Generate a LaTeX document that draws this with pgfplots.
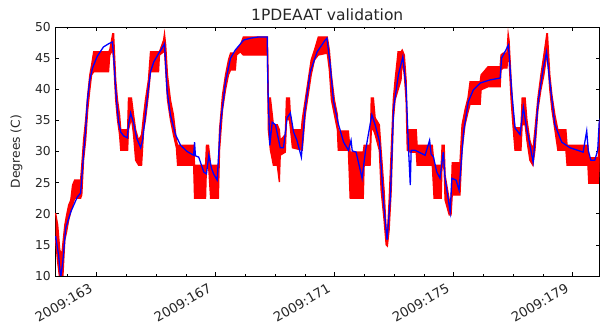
\documentclass[border=0pt]{standalone}
\usepackage{pgfplots}
\pgfplotsset{compat=1.18}
\usepackage{pgfplotstable}
\usepgfplotslibrary{fillbetween}
\usetikzlibrary{calc}
\usepackage{fontspec}
\setmainfont{DejaVu Sans}

\pgfplotstableread{
x y
161.62 20.1
161.69 18.2
161.76 14.2
161.83 13.4
161.86 15.0
161.93 18.2
161.99 19.8
162.06 21.4
162.13 22.2
162.19 24.6
162.26 25.4
162.46 25.4
162.50 27.8
162.56 31.8
162.63 35.1
162.70 39.1
162.77 42.3
162.83 43.9
162.90 46.0
163.40 46.0
163.44 46.3
163.50 47.9
163.54 48.9
163.57 48.9
163.64 41.5
163.70 38.3
163.77 35.9
163.81 33.5
164.04 33.5
164.07 38.6
164.17 38.6
164.24 35.9
164.31 33.5
164.41 31.8
164.51 32.7
164.58 35.9
164.64 38.3
164.74 41.5
164.81 46.0
165.11 46.0
165.25 47.9
165.28 48.9
165.32 47.1
165.38 42.3
165.48 38.3
165.58 35.9
165.68 31.8
165.72 31.0
166.26 31.0
166.29 27.8
166.66 27.8
166.69 31.0
166.76 31.0
166.83 27.8
167.09 27.8
167.13 33.5
167.23 39.1
167.33 42.3
167.43 44.7
167.50 45.8
167.66 45.8
167.70 46.3
167.83 47.1
167.93 48.4
168.74 48.4
168.77 38.6
168.84 38.6
168.94 34.3
169.07 34.3
169.14 33.5
169.17 31.8
169.34 32.7
169.38 38.6
169.48 38.6
169.51 35.9
169.58 33.5
169.88 33.5
169.91 35.1
170.01 38.3
170.11 41.5
170.21 44.7
170.32 46.3
170.45 48.4
170.75 48.4
170.82 46.3
170.89 42.3
170.99 38.3
171.09 35.9
171.12 33.3
171.46 33.3
171.52 29.9
171.96 29.9
171.99 31.0
172.19 31.0
172.23 38.6
172.30 38.6
172.36 35.4
172.50 34.3
172.56 30.2
172.66 23.8
172.73 17.4
172.77 16.6
172.83 22.2
172.90 30.2
172.97 38.3
173.03 41.5
173.13 46.0
173.23 46.0
173.27 46.3
173.34 45.5
173.40 41.5
173.44 33.5
173.74 33.5
173.77 31.0
174.28 31.0
174.34 27.8
174.58 27.8
174.61 31.0
174.68 31.0
174.71 26.2
174.85 22.2
174.91 21.4
174.95 28.2
175.21 28.2
175.28 34.3
175.38 36.7
175.48 38.6
175.55 41.2
175.89 41.2
175.92 42.3
176.15 43.6
176.56 43.6
176.59 45.5
176.66 45.8
176.79 45.8
176.83 48.9
176.86 47.9
176.93 41.5
176.99 36.7
177.06 33.8
177.26 33.8
177.30 38.6
177.40 38.6
177.46 35.1
177.56 31.8
177.66 30.2
177.73 33.5
177.83 38.6
177.93 42.3
178.03 45.5
178.13 48.9
178.15 48.9
178.23 42.3
178.30 39.1
178.40 35.9
178.50 33.5
178.77 33.5
178.81 31.0
179.51 31.0
179.54 29.0
179.86 29.0
179.91 35.0
}\updata

\pgfplotstableread{
x y
161.62 15.8
161.69 12.2
161.76 9.5
161.83 9.5
161.86 9.5
161.93 15.8
161.99 17.1
162.06 19.0
162.13 20.3
162.19 21.4
162.26 22.5
162.46 22.5
162.50 23.0
162.56 28.6
162.63 31.8
162.70 36.7
162.77 39.9
162.83 42.3
162.90 42.8
163.40 42.8
163.44 45.5
163.50 46.0
163.54 46.3
163.57 44.7
163.64 38.3
163.70 35.1
163.77 32.7
163.81 30.2
164.04 30.2
164.07 33.5
164.17 35.4
164.24 32.7
164.31 28.6
164.41 27.8
164.51 27.8
164.58 33.5
164.64 35.1
164.74 39.1
164.81 42.8
165.08 42.8
165.11 45.5
165.25 46.0
165.28 46.3
165.32 43.1
165.38 38.3
165.48 35.1
165.58 32.7
165.68 30.6
165.72 27.8
166.26 27.8
166.29 22.5
166.66 22.5
166.69 27.8
166.76 27.8
166.83 22.5
167.09 22.5
167.13 30.2
167.23 36.7
167.33 39.9
167.43 42.3
167.50 43.1
167.66 43.1
167.70 45.5
167.83 46.0
167.93 45.5
168.74 45.5
168.77 33.5
168.84 30.2
168.94 27.8
169.07 27.8
169.14 25.1
169.17 29.4
169.34 29.9
169.38 35.1
169.48 35.1
169.51 33.8
169.58 30.6
169.91 30.2
170.01 35.9
170.11 39.1
170.21 42.3
170.32 44.7
170.45 45.5
170.75 45.8
170.82 43.1
170.89 38.3
170.99 35.9
171.09 33.5
171.12 30.2
171.46 30.2
171.52 22.5
171.96 22.5
171.99 27.8
172.19 27.8
172.23 33.5
172.30 33.5
172.36 32.7
172.50 30.2
172.56 23.8
172.66 19.0
172.73 15.0
172.77 14.8
172.83 17.4
172.90 23.8
172.97 35.1
173.03 38.3
173.13 39.9
173.23 41.5
173.27 44.7
173.34 42.3
173.40 38.3
173.44 30.2
173.54 29.9
173.74 29.9
173.77 27.8
174.28 27.8
174.34 22.5
174.58 22.5
174.61 28.6
174.68 27.0
174.71 22.2
174.85 19.8
174.91 19.8
174.95 23.0
175.21 23.0
175.28 30.2
175.38 34.3
175.48 36.3
175.55 37.6
175.89 37.6
175.92 39.9
176.15 40.4
176.56 40.4
176.59 43.1
176.66 43.4
176.79 43.4
176.83 46.3
176.86 44.7
176.93 38.3
176.99 34.3
177.06 30.2
177.26 30.2
177.30 34.3
177.40 34.3
177.46 31.8
177.56 28.6
177.66 27.8
177.73 30.2
177.83 36.7
177.93 39.9
178.03 42.3
178.13 45.5
178.15 45.5
178.23 39.9
178.30 36.7
178.40 33.5
178.50 30.2
178.77 30.2
178.81 27.8
179.51 27.8
179.54 24.9
179.86 24.9
179.91 30.0
}\lodata

\pgfplotstableread{
x y
161.62 16.4
161.72 13.4
161.79 9.7
161.86 12.2
161.96 17.7
162.13 20.3
162.35 22.7
162.46 23.3
162.57 30.2
162.63 33.5
162.69 38.3
162.77 41.5
162.86 43.4
163.02 45.3
163.23 46.8
163.40 47.3
163.53 47.6
163.58 44.7
163.64 39.9
163.69 37.0
163.74 34.7
163.81 33.1
163.91 32.5
164.03 32.2
164.07 34.3
164.14 36.2
164.24 34.6
164.34 32.2
164.48 30.6
164.54 31.8
164.64 35.9
164.74 40.2
164.81 42.8
164.92 44.4
165.09 45.8
165.26 47.1
165.28 47.3
165.37 39.6
165.48 35.9
165.65 32.7
165.82 31.0
166.04 30.0
166.26 29.4
166.29 31.5
166.32 29.3
166.43 29.1
166.60 26.7
166.69 26.4
166.77 29.4
166.86 27.3
166.93 26.4
167.05 25.4
167.16 34.3
167.33 41.2
167.50 45.0
167.66 46.3
167.94 47.9
168.17 48.2
168.44 48.4
168.73 48.4
168.76 39.6
168.82 31.0
168.90 34.7
169.01 34.3
169.17 30.6
169.28 30.6
169.40 35.4
169.51 36.2
169.62 33.1
169.73 31.8
169.88 29.1
170.01 37.0
170.18 42.8
170.41 46.0
170.68 47.9
170.74 48.2
170.85 43.9
170.96 38.0
171.13 34.3
171.30 31.5
171.46 30.2
171.55 31.8
171.59 30.1
171.72 29.9
171.92 25.7
172.03 29.9
172.13 32.7
172.25 35.9
172.36 34.3
172.51 31.5
172.64 21.9
172.76 15.8
172.87 22.5
172.98 37.0
173.14 42.3
173.29 45.2
173.40 40.2
173.48 30.6
173.54 24.6
173.57 30.2
173.70 30.2
173.87 29.8
174.04 29.4
174.19 31.8
174.24 29.6
174.32 29.1
174.43 26.7
174.54 25.7
174.65 29.9
174.71 25.7
174.88 20.3
174.94 25.7
175.08 25.4
175.18 23.8
175.33 33.1
175.49 38.0
175.66 39.9
175.89 41.0
176.22 41.5
176.56 41.8
176.61 45.0
176.72 46.0
176.84 47.1
176.95 39.6
177.06 33.8
177.23 32.7
177.34 37.1
177.45 33.8
177.67 28.3
177.84 38.0
178.00 43.1
178.12 46.0
178.23 41.2
178.40 34.3
178.63 31.5
178.91 30.6
179.35 29.9
179.47 33.3
179.52 30.2
179.61 28.6
179.74 28.6
179.84 30.2
179.89 34.7
179.92 35.3
}\bluedata

\begin{document}
\begin{tikzpicture}
\begin{axis}[
  name=ax,
  scale only axis,
  width=544.5bp, height=249bp,
  xmin=161.60, xmax=179.90,
  ymin=10, ymax=50,
  xtick={163,167,171,175,179},
  xticklabels={2009:163,2009:167,2009:171,2009:175,2009:179},
  minor xtick={162,164,165,166,168,169,170,172,173,174,176,177,178},
  ytick={10,15,...,50},
  tick align=inside,
  major tick length=4bp,
  minor tick length=2bp,
  every tick/.style={black, line width=0.6bp},
  axis line style={line width=0.8bp},
  /pgf/number format/assume math mode=true,
  tick label style={font=\fontsize{12.3bp}{14bp}\selectfont, text=black!85},
  every x tick label/.style={inner sep=0bp, xshift=-8bp, yshift=-6.5bp, rotate=30, anchor=north east, font=\fontsize{13.2bp}{15bp}\selectfont},
  yticklabel style={inner sep=1bp, xshift=-3bp},
  title={1PDEAAT validation},
  title style={font=\fontsize{15.5bp}{17bp}\selectfont, text=black!85, yshift=-3bp},
  ylabel={Degrees (C)},
  every axis y label/.style={at={(rel axis cs:0,0.5)}, xshift=-38.5bp, rotate=90, anchor=center, font=\fontsize{12.3bp}{14bp}\selectfont, text=black!85},
  clip=true,
]
\addplot[red, line width=1.3bp, name path=U] table[x=x, y=y] {\updata};
\addplot[red, line width=1.3bp, name path=L] table[x=x, y=y] {\lodata};
\addplot[red, draw=none] fill between[of=U and L];
\addplot[blue, line width=1.3bp] table[x=x, y=y] {\bluedata};
\end{axis}
\pgfresetboundingbox
\path[use as bounding box] ($(ax.south west)+(-55bp,-53bp)$) rectangle ($(ax.north east)+(0.5bp,27bp)$);
\end{tikzpicture}
\end{document}
